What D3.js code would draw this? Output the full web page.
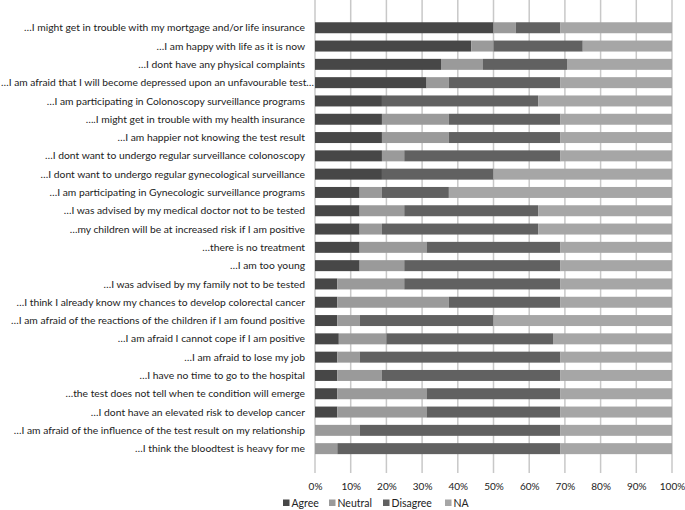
<!DOCTYPE html>
<html>
<head>
<meta charset="utf-8">
<script src="https://cdn.jsdelivr.net/npm/d3@7"></script>
<style>
  body { margin: 0; background: #fff; }
  svg { display: block; }
  text { font-family: Lato, "Open Sans", sans-serif; fill: #222; }
</style>
</head>
<body>
<svg id="chart" width="685" height="510"></svg>
<script>
const categories = [
  "…I might get in trouble with my mortgage and/or life insurance",
  "…I am happy with life as it is now",
  "…I dont have any physical complaints",
  "…I am afraid that I will become depressed upon an unfavourable test…",
  "…I am participating in Colonoscopy surveillance programs",
  "….I might get in trouble with my health insurance",
  "…I am happier not knowing the test result",
  "…I dont want to undergo regular surveillance colonoscopy",
  "…I dont want to undergo regular gynecological surveillance",
  "…I am participating in Gynecologic surveillance programs",
  "…I was advised by my medical doctor not to be tested",
  "…my children will be at increased risk if I am positive",
  "…there is no treatment",
  "…I am too young",
  "…I was advised by my family not to be tested",
  "…I think I already know my chances to develop colorectal cancer",
  "…I am afraid of the reactions of the children if I am found positive",
  "…I am afraid I cannot cope if I am positive",
  "…I am afraid to lose my job",
  "…I have no time to go to the hospital",
  "…the test does not tell when te condition will emerge",
  "…I dont have an elevated risk to develop cancer",
  "…I am afraid of the influence of the test result on my relationship",
  "…I think the bloodtest is heavy for me"
];
const agree    = [50, 43.75, 35.29, 31.25, 18.75, 18.75, 18.75, 18.75, 18.75, 12.5, 12.5, 12.5, 12.5, 12.5, 6.25, 6.25, 6.25, 6.67, 6.25, 6.25, 6.25, 6.25, 0, 0];
const neutral  = [6.25, 6.25, 11.76, 6.25, 0, 18.75, 18.75, 6.25, 0, 6.25, 12.5, 6.25, 18.75, 12.5, 18.75, 31.25, 6.25, 13.33, 6.25, 12.5, 25, 25, 12.5, 6.25];
const disagree = [12.5, 25, 23.53, 31.25, 43.75, 31.25, 31.25, 43.75, 31.25, 18.75, 37.5, 43.75, 37.5, 43.75, 43.75, 31.25, 37.5, 46.67, 56.25, 50, 37.5, 37.5, 56.25, 62.5];
const na       = [31.25, 25, 29.41, 31.25, 37.5, 31.25, 31.25, 31.25, 50, 62.5, 37.5, 37.5, 31.25, 31.25, 31.25, 31.25, 50, 33.33, 31.25, 31.25, 31.25, 31.25, 31.25, 31.25];
const seriesNames = ["Agree", "Neutral", "Disagree", "NA"];
const seriesColors = ["#474747", "#9a9a9a", "#616161", "#a6a6a6"];
const tickValues = [0, 10, 20, 30, 40, 50, 60, 70, 80, 90, 100];

const rows = categories.map((c, i) => ({
  cat: c, Agree: agree[i], Neutral: neutral[i], Disagree: disagree[i], NA: na[i]
}));
const stacked = d3.stack().keys(seriesNames)
  .offset(d3.stackOffsetExpand)(rows);

const svg = d3.select("#chart");
const left = 315, right = 672, plotTop = 0, plotBottom = 473;
const x = d3.scaleLinear().domain([0, 1]).range([left, right]);
const y = d3.scaleBand().domain(categories).range([18.6, 18.6 + 24 * 18.3])
  .paddingInner(0.4).paddingOuter(0.2);

// gridlines
svg.append("g").selectAll("line").data(tickValues).join("line")
  .attr("x1", d => x(d / 100)).attr("x2", d => x(d / 100))
  .attr("y1", plotTop).attr("y2", plotBottom)
  .attr("stroke", "#c8c8c8").attr("stroke-width", 1.5);

// bars
const color = d3.scaleOrdinal().domain(seriesNames).range(seriesColors);
svg.append("g").selectAll("g").data(stacked).join("g")
  .attr("fill", d => color(d.key))
  .selectAll("rect").data(d => d).join("rect")
  .attr("x", d => x(d[0]))
  .attr("width", d => Math.max(0, x(d[1]) - x(d[0])))
  .attr("y", d => y(d.data.cat))
  .attr("height", y.bandwidth());

// category labels
const labelSize = 10.3;
svg.append("g").selectAll("text").data(categories).join("text")
  .attr("x", 305)
  .attr("y", d => y(d) + y.bandwidth() / 2)
  .attr("dy", "0.35em")
  .attr("text-anchor", "end")
  .attr("font-size", labelSize)
  .text(d => d)
  .each(function() {
    const w = this.getComputedTextLength();
    if (w > 303) {
      d3.select(this).attr("text-anchor", "start").attr("x", 1)
        .attr("textLength", 313).attr("lengthAdjust", "spacingAndGlyphs");
    }
  });

// x axis
const xAxis = d3.axisBottom(x).tickValues(tickValues.map(v => v / 100))
  .tickFormat(d => Math.round(d * 100) + "%").tickSize(0).tickPadding(0);
const gx = svg.append("g").attr("transform", `translate(0, 483)`).call(xAxis);
gx.select(".domain").remove();
gx.selectAll("text").attr("font-size", 10).attr("fill", "#333")
  .style("font-family", "Lato, 'Open Sans', sans-serif");

// legend
const legendX = [283, 329, 383, 445];
const lg = svg.append("g").selectAll("g").data(seriesNames).join("g")
  .attr("transform", (d, i) => `translate(${legendX[i]}, 503)`);
lg.append("rect").attr("x", 0).attr("y", -3.5).attr("width", 6.5).attr("height", 6.5)
  .attr("fill", d => color(d));
lg.append("text").attr("x", 8.5).attr("y", 0).attr("dy", "0.35em")
  .attr("font-size", 10.5).attr("fill", "#333").text(d => d);
</script>
</body>
</html>
